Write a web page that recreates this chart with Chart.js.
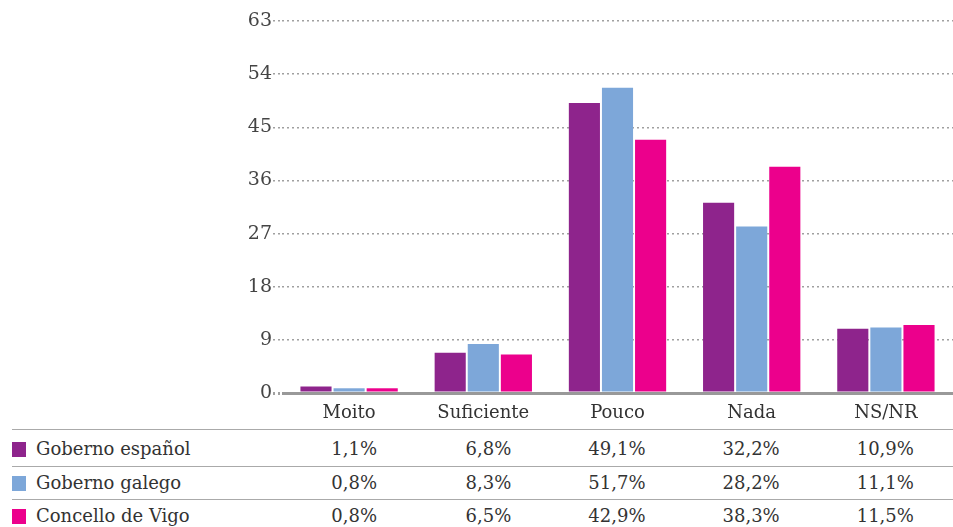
<!DOCTYPE html>
<html>
<head>
<meta charset="utf-8">
<script src="https://cdn.jsdelivr.net/npm/chart.js@4"></script>
<style>
  html, body { margin: 0; padding: 0; background: #fff; }
  #wrap { position: relative; width: 953px; height: 527px; overflow: hidden; font-family: "DejaVu Serif", serif; color: #333; }
  #chartBox { position: absolute; left: 0; top: 0; width: 953px; height: 427px; }
  .rule { position: absolute; left: 12px; right: 0; height: 0; border-top: 1.5px solid #aaa; }
  .row { position: absolute; left: 0; width: 953px; height: 24px; font-size: 18px; line-height: 24px; }
  .swatch { position: absolute; left: 12px; top: 5px; width: 14px; height: 15px; }
  .name { position: absolute; left: 36px; top: 0; white-space: nowrap; }
  .val { position: absolute; top: 0; white-space: nowrap; text-align: right; width: 80px; }
</style>
</head>
<body>
<div id="wrap">
  <div id="chartBox"><canvas id="chart"></canvas></div>
  <div id="table"></div>
</div>
<script>
document.addEventListener("DOMContentLoaded", function () {
    // categorías e series
    const categories = ["Moito", "Suficiente", "Pouco", "Nada", "NS/NR"];
    const seriesNames = ["Goberno español", "Goberno galego", "Concello de Vigo"];
    const goberEspanol = [1.1, 6.8, 49.1, 32.2, 10.9];
    const goberGalego = [0.8, 8.3, 51.7, 28.2, 11.1];
    const concelloVigo = [0.8, 6.5, 42.9, 38.3, 11.5];
    const yTicks = [0, 9, 18, 27, 36, 45, 54, 63];

    const colors = ["#8e248c", "#7da7d9", "#ec008c"];
    const allSeries = [goberEspanol, goberGalego, concelloVigo];
    const fontFamily = '"DejaVu Serif", serif';

    const datasets = allSeries.map((data, i) => ({
        label: seriesNames[i],
        data: data,
        backgroundColor: colors[i],
        barPercentage: 0.94,
        categoryPercentage: 0.74
    }));

    const isZero = ctx => ctx.tick && ctx.tick.value === 0;

    const chart = new Chart(document.getElementById("chart"), {
        type: "bar",
        data: { labels: categories, datasets: datasets },
        options: {
            responsive: true,
            maintainAspectRatio: false,
            animation: false,
            layout: { padding: { top: 21, right: 0, bottom: 0, left: 0 } },
            plugins: {
                legend: { display: false },
                tooltip: { enabled: false }
            },
            scales: {
                x: {
                    grid: { display: false },
                    border: { display: false },
                    ticks: {
                        color: "#333",
                        padding: 2,
                        font: { family: fontFamily, size: 18 }
                    },
                    afterFit: function (scale) { scale.height = 34; }
                },
                y: {
                    min: 0,
                    max: yTicks[yTicks.length - 1],
                    afterBuildTicks: function (scale) {
                        scale.ticks = yTicks.map(v => ({ value: v }));
                    },
                    afterFit: function (scale) { scale.width = 282; },
                    grid: {
                        color: ctx => isZero(ctx) ? "#999" : "#a0a0a0",
                        lineWidth: ctx => isZero(ctx) ? 3 : 1.4,
                        tickLength: 9,
                        tickColor: "#a0a0a0",
                        tickBorderDash: [2, 3]
                    },
                    border: {
                        display: false,
                        dash: ctx => isZero(ctx) ? [] : [2, 3]
                    },
                    ticks: {
                        color: "#444",
                        padding: 1,
                        font: { family: fontFamily, size: 19 }
                    }
                }
            }
        }
    });

    // tabla de datos debaixo do gráfico
    const table = document.getElementById("table");
    const ruleTops = [429, 466, 499];
    const rowTops = [437, 471, 504];
    const xScale = chart.scales.x;

    ruleTops.forEach(t => {
        const r = document.createElement("div");
        r.className = "rule";
        r.style.top = t + "px";
        table.appendChild(r);
    });

    allSeries.forEach((data, i) => {
        const row = document.createElement("div");
        row.className = "row";
        row.style.top = rowTops[i] + "px";

        const sw = document.createElement("div");
        sw.className = "swatch";
        sw.style.background = colors[i];
        row.appendChild(sw);

        const name = document.createElement("div");
        name.className = "name";
        name.textContent = seriesNames[i];
        row.appendChild(name);

        data.forEach((v, j) => {
            const cell = document.createElement("div");
            cell.className = "val";
            cell.textContent = v.toFixed(1).replace(".", ",") + "%";
            cell.style.left = (xScale.getPixelForValue(j) + 28 - 80) + "px";
            row.appendChild(cell);
        });
        table.appendChild(row);
    });
});
</script>
</body>
</html>
